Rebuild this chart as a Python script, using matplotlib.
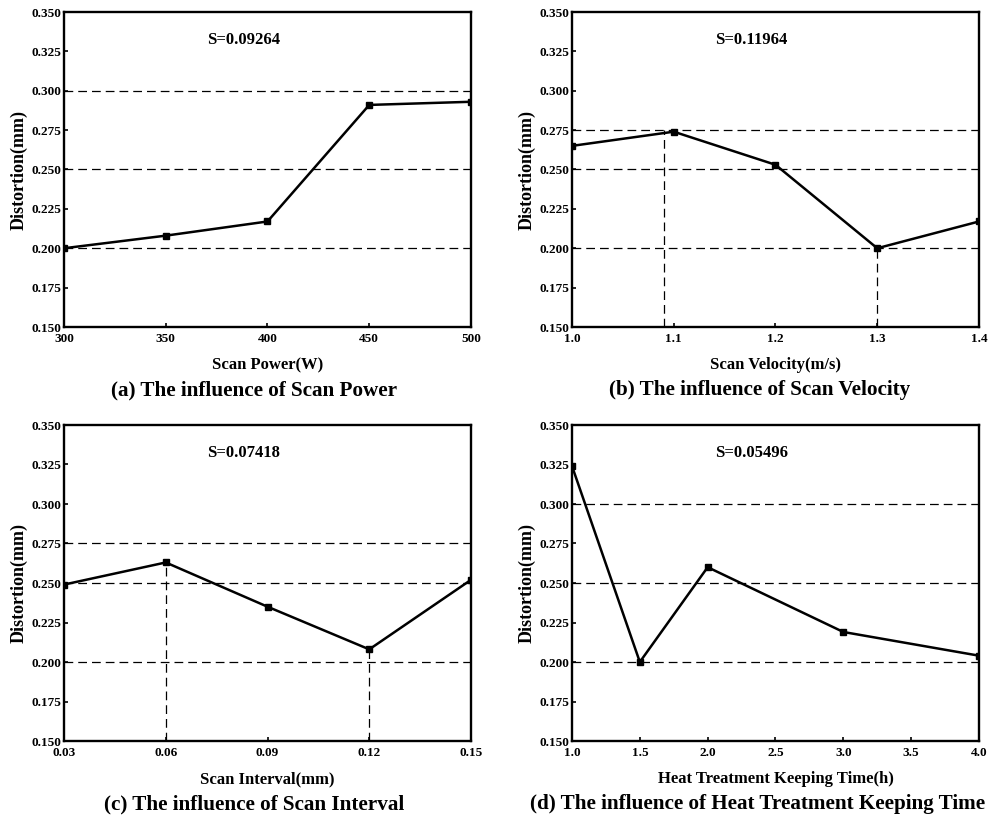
import matplotlib.pyplot as plt

plt.rcParams['font.family'] = ['Liberation Serif', 'DejaVu Serif']
plt.rcParams['font.weight'] = 'bold'

# (a) scan power
power_x = [300, 350, 400, 450, 500]
power_y = [0.200, 0.208, 0.217, 0.291, 0.293]
# (b) scan velocity
velocity_x = [1.0, 1.1, 1.2, 1.3, 1.4]
velocity_y = [0.265, 0.274, 0.253, 0.200, 0.217]
# (c) scan interval
interval_x = [0.03, 0.06, 0.09, 0.12, 0.15]
interval_y = [0.249, 0.263, 0.235, 0.208, 0.252]
# (d) heat treatment keeping time
time_x = [1.0, 1.5, 2.0, 3.0, 4.0]
time_y = [0.324, 0.200, 0.260, 0.219, 0.204]

s_values = ["S=0.09264", "S=0.11964", "S=0.07418", "S=0.05496"]
y_ticks = [0.150, 0.175, 0.200, 0.225, 0.250, 0.275, 0.300, 0.325, 0.350]

panels = [
    dict(x=power_x, y=power_y, xticks=[300, 350, 400, 450, 500], fmt="{:.0f}",
         xlabel="Scan Power(W)", title="(a) The influence of Scan Power", tx=0.466,
         hlines=[0.300, 0.250, 0.200], vlines=[], s=s_values[0]),
    dict(x=velocity_x, y=velocity_y, xticks=[1.0, 1.1, 1.2, 1.3, 1.4], fmt="{:.1f}",
         xlabel="Scan Velocity(m/s)", title="(b) The influence of Scan Velocity", tx=0.46,
         hlines=[0.275, 0.250, 0.200], vlines=[(1.09, 0.275), (1.3, 0.200)], s=s_values[1]),
    dict(x=interval_x, y=interval_y, xticks=[0.03, 0.06, 0.09, 0.12, 0.15], fmt="{:.2f}",
         xlabel="Scan Interval(mm)", title="(c) The influence of Scan Interval", tx=0.468,
         hlines=[0.275, 0.250, 0.200], vlines=[(0.06, 0.263), (0.12, 0.208)], s=s_values[2]),
    dict(x=time_x, y=time_y, xticks=[1.0, 1.5, 2.0, 2.5, 3.0, 3.5, 4.0], fmt="{:.1f}",
         xlabel="Heat Treatment Keeping Time(h)", title="(d) The influence of Heat Treatment Keeping Time",
         tx=0.455, hlines=[0.300, 0.250, 0.200], vlines=[], s=s_values[3]),
]

fig = plt.figure(figsize=(9.95, 8.21), dpi=100)
W, H = 995, 821
boxes = [(64, 12, 471, 327), (572, 12, 979, 327), (64, 425, 471, 741), (572, 425, 979, 741)]

for p, (l, t, r, b) in zip(panels, boxes):
    ax = fig.add_axes([l / W, 1 - b / H, (r - l) / W, (b - t) / H])
    for yv in p["hlines"]:
        ax.axhline(yv, color='black', lw=0.9, ls=(0, (7, 4)), zorder=1)
    for xv, top in p["vlines"]:
        ax.plot([xv, xv], [0.150, top], color='black', lw=0.9, ls=(0, (7, 4)), zorder=1)
    ax.plot(p["x"], p["y"], color='black', lw=1.8, marker='s', ms=5, zorder=3)
    ax.set_xlim(p["xticks"][0], p["xticks"][-1])
    ax.set_ylim(0.150, 0.350)
    ax.set_xticks(p["xticks"])
    ax.set_xticklabels([p["fmt"].format(v) for v in p["xticks"]])
    ax.set_yticks(y_ticks)
    ax.set_yticklabels(["{:.3f}".format(v) for v in y_ticks])
    ax.tick_params(direction='in', length=3, width=1.2, labelsize=9.5)
    ax.tick_params(axis='x', pad=4)
    ax.tick_params(axis='y', pad=2)
    for sp in ax.spines.values():
        sp.set_linewidth(1.7)
    ax.set_ylabel("Distortion(mm)", fontsize=13, fontweight='bold', labelpad=3)
    ax.set_xlabel(p["xlabel"], fontsize=12, fontweight='bold', labelpad=9)
    ax.text(0.44, 0.91, p["s"], transform=ax.transAxes, ha='center', va='center',
            fontsize=12, fontweight='bold')
    ax.text(p["tx"], -0.2, p["title"], transform=ax.transAxes, ha='center', va='center',
            fontsize=15.2, fontweight='bold')

fig.savefig("out.png", dpi=100)
